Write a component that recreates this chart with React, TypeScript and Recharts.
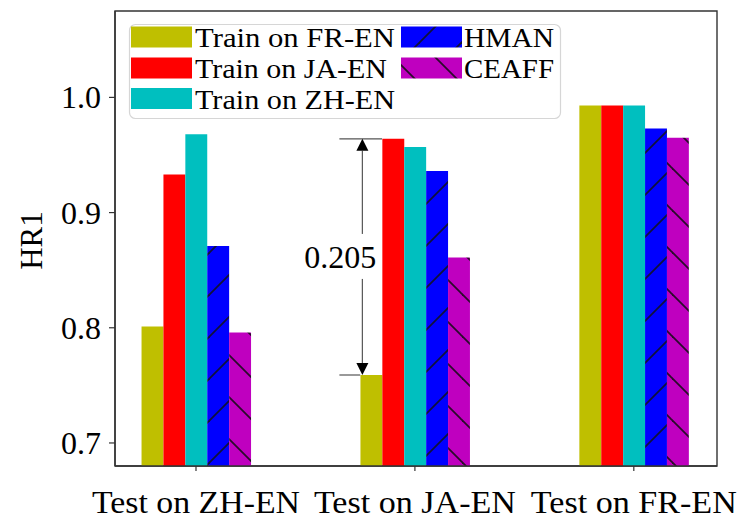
import React from 'react';
import { BarChart, Bar, XAxis, YAxis, ReferenceArea, ReferenceLine, Legend } from 'recharts';

// ---- data ----
const categories = ['Test on ZH-EN', 'Test on JA-EN', 'Test on FR-EN'];
const categoryX = [0, 1, 2];
const trainFR = [0.801, 0.759, 0.993];
const trainJA = [0.933, 0.964, 0.993];
const trainZH = [0.968, 0.957, 0.993];
const hman = [0.871, 0.936, 0.973];
const ceaff = [0.796, 0.861, 0.965];
const yTicks = [0.7, 0.8, 0.9, 1.0];
const seriesNames = ['Train on FR-EN', 'Train on JA-EN', 'Train on ZH-EN', 'HMAN', 'CEAFF'];
const annotationLabel = '0.205';

// ---- styling ----
const FONT = 'Liberation Serif';
const AXIS = '#333';
const seriesStyle = [
  { key: 'fr', fill: '#bfbf00' },
  { key: 'ja', fill: '#ff0000' },
  { key: 'zh', fill: '#00bfbf' },
  { key: 'hman', fill: 'url(#hatchBlue)' },
  { key: 'ceaff', fill: 'url(#hatchMagenta)' },
];
const xLabelWidths = [208, 202, 206];
const legendTextWidths = [200, 192, 200, 90, 90];

const data = categoryX.map((x, i) => ({
  x,
  fr: trainFR[i],
  ja: trainJA[i],
  zh: trainZH[i],
  hman: hman[i],
  ceaff: ceaff[i],
}));

const Patterns = () => (
  <svg width={0} height={0} style={{ position: 'absolute' }}>
    <defs>
      <pattern id="hatchBlue" patternUnits="userSpaceOnUse" width={42} height={42}>
        <rect width={42} height={42} fill="#0000ff" />
        <line x1={0} y1={42} x2={42} y2={0} stroke="#10103a" strokeWidth={1.8} />
        <line x1={-2} y1={2} x2={2} y2={-2} stroke="#10103a" strokeWidth={1.8} />
        <line x1={40} y1={44} x2={44} y2={40} stroke="#10103a" strokeWidth={1.8} />
      </pattern>
      <pattern id="hatchMagenta" patternUnits="userSpaceOnUse" width={42} height={42}>
        <rect width={42} height={42} fill="#bf00bf" />
        <line x1={0} y1={0} x2={42} y2={42} stroke="#2a0a2a" strokeWidth={1.8} />
        <line x1={-2} y1={40} x2={2} y2={44} stroke="#2a0a2a" strokeWidth={1.8} />
        <line x1={40} y1={-2} x2={44} y2={2} stroke="#2a0a2a" strokeWidth={1.8} />
      </pattern>
    </defs>
  </svg>
);

const XTick = (props: any) => {
  const { x, y, payload } = props;
  const idx = categoryX.indexOf(payload.value);
  return (
    <text
      x={x}
      y={y + 40}
      textAnchor="middle"
      fontFamily={FONT}
      fontSize={32}
      fill="#000"
      textLength={xLabelWidths[idx]}
      lengthAdjust="spacingAndGlyphs"
    >
      {categories[idx]}
    </text>
  );
};

const YTick = (props: any) => {
  const { x, y, payload } = props;
  return (
    <text x={x} y={y + 11} textAnchor="end" fontFamily={FONT} fontSize={32} fill="#000">
      {Number(payload.value).toFixed(1)}
    </text>
  );
};

const YLabel = (props: any) => {
  const vb = props.viewBox || {};
  const cx = 42;
  const cy = vb.y + vb.height / 2 + 2;
  return (
    <text
      x={cx}
      y={cy}
      transform={`rotate(-90 ${cx} ${cy})`}
      textAnchor="middle"
      fontFamily={FONT}
      fontSize={31}
      fill="#000"
    >
      HR1
    </text>
  );
};

const ArrowShape = (props: any) => {
  const { x1, y1, x2, y2 } = props;
  if (x1 == null || y1 == null) return null;
  const x = x1;
  const top = Math.min(y1, y2);
  const bot = Math.max(y1, y2);
  const mid = (top + bot) / 2;
  const ah = 12;
  const aw = 6;
  const tx = x - 22;
  return (
    <g>
      <line x1={x} y1={top + ah} x2={x} y2={bot - ah} stroke="#555" strokeWidth={1.2} />
      <polygon points={`${x},${top} ${x - aw},${top + ah} ${x + aw},${top + ah}`} fill="#000" />
      <polygon points={`${x},${bot} ${x - aw},${bot - ah} ${x + aw},${bot - ah}`} fill="#000" />
      <rect x={tx - 40} y={mid - 23} width={80} height={45} fill="#fff" />
      <text x={tx} y={mid + 11} textAnchor="middle" fontFamily={FONT} fontSize={32} fill="#000">
        {annotationLabel}
      </text>
    </g>
  );
};

const LegendContent = () => {
  const rows = [
    [0, 0],
    [1, 0],
    [2, 0],
    [0, 1],
    [1, 1],
  ];
  const rowY = [26.5, 57.5, 88];
  const baseY = [47, 78, 108.5];
  const colSwatchX = [131, 401];
  const colTextX = [195, 464];
  return (
    <svg width={741} height={130} style={{ display: 'block' }}>
      <rect x={129.5} y={24.5} width={431} height={94} rx={6} ry={6} fill="#fff" fillOpacity={0.8} stroke="#d6d6d6" strokeWidth={1.2} />
      {seriesNames.map((name, i) => {
        const [r, c] = rows[i];
        return (
          <g key={name}>
            <rect x={colSwatchX[c]} y={rowY[r]} width={61} height={21} fill={seriesStyle[i].fill} />
            <text
              x={colTextX[c]}
              y={baseY[r]}
              fontFamily={FONT}
              fontSize={28}
              fill="#000"
              textLength={legendTextWidths[i]}
              lengthAdjust="spacingAndGlyphs"
            >
              {name}
            </text>
          </g>
        );
      })}
    </svg>
  );
};

export default function App() {
  const annX = 0.76;
  const leftX = 0.655;
  const barHalf = 0.25;
  return (
    <div style={{ position: 'absolute', left: 0, top: 0, width: 741, height: 520, background: '#fff' }}>
      <Patterns />
      <BarChart
        width={741}
        height={520}
        data={data}
        margin={{ top: 11, right: 24, left: 0, bottom: 0 }}
        barGap={0}
        barCategoryGap={0}
      >
        <XAxis
          dataKey="x"
          type="number"
          domain={[-0.37, 2.38]}
          ticks={categoryX}
          allowDataOverflow
          height={54}
          tickSize={5}
          tickMargin={2}
          tickLine={{ stroke: AXIS, strokeWidth: 1.2 }}
          axisLine={{ stroke: AXIS, strokeWidth: 1.4 }}
          tick={<XTick />}
          interval={0}
        />
        <YAxis
          type="number"
          domain={[0.68, 1.075]}
          ticks={yTicks}
          allowDataOverflow
          width={115}
          tickSize={6}
          tickMargin={8}
          tickLine={{ stroke: AXIS, strokeWidth: 1.2 }}
          axisLine={{ stroke: AXIS, strokeWidth: 1.4 }}
          tick={<YTick />}
          label={<YLabel />}
        />
        {seriesStyle.map((s, i) => (
          <Bar
            key={s.key}
            dataKey={s.key}
            name={seriesNames[i]}
            fill={s.fill}
            barSize={21.9}
            isAnimationActive={false}
          />
        ))}
        <ReferenceArea
          x1={-0.37}
          x2={2.38}
          y1={0.68}
          y2={1.075}
          fill="none"
          fillOpacity={0}
          stroke={AXIS}
          strokeWidth={1.4}
          ifOverflow="visible"
        />
        <ReferenceLine
          segment={[
            { x: leftX, y: trainJA[1] },
            { x: categoryX[1] - barHalf + 0.1, y: trainJA[1] },
          ]}
          stroke="#555"
          strokeWidth={1.2}
          ifOverflow="visible"
        />
        <ReferenceLine
          segment={[
            { x: leftX, y: trainFR[1] },
            { x: categoryX[1] - barHalf, y: trainFR[1] },
          ]}
          stroke="#555"
          strokeWidth={1.2}
          ifOverflow="visible"
        />
        <ReferenceLine
          segment={[
            { x: annX, y: trainFR[1] },
            { x: annX, y: trainJA[1] },
          ]}
          shape={<ArrowShape />}
          ifOverflow="visible"
        />
        <Legend
          layout="vertical"
          align="center"
          verticalAlign="middle"
          content={<LegendContent />}
          wrapperStyle={{ position: 'absolute', left: 0, top: 0, width: 741, height: 130, pointerEvents: 'none' }}
        />
      </BarChart>
    </div>
  );
}
